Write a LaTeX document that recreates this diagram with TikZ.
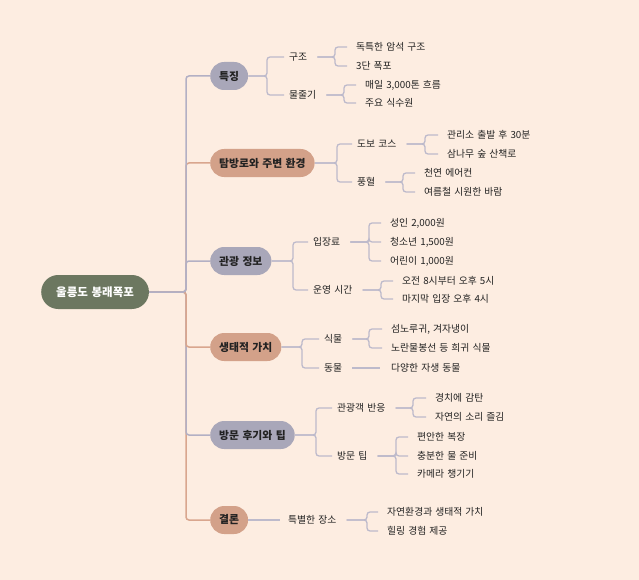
\documentclass[tikz,border=0pt]{standalone}
\usepackage{fontspec}
\setmainfont{Noto Sans CJK KR}[WordSpace=1.4]
\definecolor{bg}{HTML}{FDEDE1}
\definecolor{rootc}{HTML}{6C7760}
\definecolor{grayc}{HTML}{A9A7B9}
\definecolor{tanc}{HTML}{D3A189}
\definecolor{grayl}{HTML}{B3B0C4}
\definecolor{tanl}{HTML}{D9A68E}
\definecolor{subl}{HTML}{BDBACB}
\definecolor{txt}{HTML}{222222}
\newcommand\link[6]{\draw[#1] ([xshift=#2pt]#3.east) -| (#4 |- #5.west) -- ([xshift=-#6pt]#5.west);}
\tikzset{
  rootbox/.style={fill=rootc, text=white, font=\fontsize{11.5}{13}\selectfont\bfseries, rounded corners=17pt, minimum height=34pt, inner xsep=15pt, anchor=west},
  grayox/.style={fill=grayc, text=txt, font=\fontsize{10.8}{12}\selectfont\bfseries, rounded corners=14pt, minimum height=28pt, inner xsep=9pt, anchor=west},
  tanbox/.style={fill=tanc, text=txt, font=\fontsize{10.8}{12}\selectfont\bfseries, rounded corners=14pt, minimum height=28pt, inner xsep=9pt, anchor=west},
  lab/.style={text=txt, font=\fontsize{9.8}{11}\selectfont, inner sep=0pt, anchor=west},
  gline/.style={draw=grayl, line width=1.5pt, rounded corners=3pt},
  tline/.style={draw=tanl, line width=1.5pt, rounded corners=3pt},
  sline/.style={draw=subl, line width=1.3pt, rounded corners=3pt},
}
\begin{document}
\begin{tikzpicture}[x=1pt,y=-1pt]
\fill[bg] (0,0) rectangle (639,580);
\useasboundingbox (0,0) rectangle (639,580);
% elbow coordinates
\coordinate (t) at (186,0);
\coordinate (e1) at (267,0);
\coordinate (e2) at (337,0);
\coordinate (e3) at (293,0);
\coordinate (e4) at (302,0);
\coordinate (e5) at (316,0);
\coordinate (e1a) at (335,0);
\coordinate (e1b) at (344,0);
\coordinate (e2a) at (425,0);
\coordinate (e2b) at (403,0);
\coordinate (e3a) at (369,0);
\coordinate (e3b) at (381,0);
\coordinate (e4a) at (369,0);
\coordinate (e5a) at (413,0);
\coordinate (e5b) at (396,0);
\coordinate (e6a) at (367,0);
% root
\node[rootbox] (root) at (41,292) {울릉도 봉래폭포};
% level 1
\node[grayox] (n1) at (210,76) {특징};
\node[tanbox] (n2) at (210,163) {탐방로와 주변 환경};
\node[grayox] (n3) at (210,261) {관광 정보};
\node[tanbox] (n4) at (210,347) {생태적 가치};
\node[grayox] (n5) at (210,435) {방문 후기와 팁};
\node[tanbox] (n6) at (210,520) {결론};
% level 2
\node[lab] (n1a) at (289,57) {구조};
\node[lab] (n1b) at (289,95) {물줄기};
\node[lab] (n2a) at (357,144) {도보 코스};
\node[lab] (n2b) at (357,182) {풍혈};
\node[lab] (n3a) at (313,242) {입장료};
\node[lab] (n3b) at (313,290) {운영 시간};
\node[lab] (n4a) at (324,339) {식물};
\node[lab] (n4b) at (324,368) {동물};
\node[lab] (n5a) at (337,408) {관광객 반응};
\node[lab] (n5b) at (337,456) {방문 팁};
\node[lab] (n6a) at (288,520) {특별한 장소};
% level 3
\node[lab] (c1) at (356,47) {독특한 암석 구조};
\node[lab] (c2) at (356,66) {3단 폭포};
\node[lab] (c3) at (365,85) {매일 3,000톤 흐름};
\node[lab] (c4) at (365,103) {주요 식수원};
\node[lab] (c5) at (447,135) {관리소 출발 후 30분};
\node[lab] (c6) at (447,154) {삼나무 숲 산책로};
\node[lab] (c7) at (424,173) {천연 에어컨};
\node[lab] (c8) at (424,192) {여름철 시원한 바람};
\node[lab] (c9) at (390,223) {성인 2,000원};
\node[lab] (c10) at (390,242) {청소년 1,500원};
\node[lab] (c11) at (390,261) {어린이 1,000원};
\node[lab] (c12) at (402,281) {오전 8시부터 오후 5시};
\node[lab] (c13) at (402,299) {마지막 입장 오후 4시};
\node[lab] (c14) at (391,329) {섬노루귀, 겨자냉이};
\node[lab] (c15) at (391,348) {노란물봉선 등 희귀 식물};
\node[lab] (c16) at (391,368) {다양한 자생 동물};
\node[lab] (c17) at (435,398) {경치에 감탄};
\node[lab] (c18) at (435,417) {자연의 소리 즐김};
\node[lab] (c19) at (417,437) {편안한 복장};
\node[lab] (c20) at (417,456) {충분한 물 준비};
\node[lab] (c21) at (417,474) {카메라 챙기기};
\node[lab] (c22) at (387,512) {자연환경과 생태적 가치};
\node[lab] (c23) at (387,531) {힐링 경험 제공};
% level 1 connectors
\link{tline}{0}{root}{t}{n6}{0}
\link{gline}{0}{root}{t}{n5}{0}
\link{tline}{0}{root}{t}{n4}{0}
\link{tline}{0}{root}{t}{n2}{0}
\link{gline}{0}{root}{t}{n1}{0}
\link{gline}{0}{root}{t}{n3}{0}
% level 2 connectors
\link{sline}{0}{n1}{e1}{n1a}{5}
\link{sline}{0}{n1}{e1}{n1b}{5}
\link{sline}{0}{n2}{e2}{n2a}{5}
\link{sline}{0}{n2}{e2}{n2b}{5}
\link{sline}{0}{n3}{e3}{n3a}{5}
\link{sline}{0}{n3}{e3}{n3b}{5}
\link{sline}{0}{n4}{e4}{n4a}{5}
\link{sline}{0}{n4}{e4}{n4b}{5}
\link{sline}{0}{n5}{e5}{n5a}{5}
\link{sline}{0}{n5}{e5}{n5b}{5}
\draw[sline] (n6.east) -- ([xshift=-8pt]n6a.west);
% level 3 connectors
\link{sline}{10}{n1a}{e1a}{c1}{9}
\link{sline}{10}{n1a}{e1a}{c2}{9}
\link{sline}{10}{n1b}{e1b}{c3}{9}
\link{sline}{10}{n1b}{e1b}{c4}{9}
\link{sline}{10}{n2a}{e2a}{c5}{9}
\link{sline}{10}{n2a}{e2a}{c6}{9}
\link{sline}{10}{n2b}{e2b}{c7}{9}
\link{sline}{10}{n2b}{e2b}{c8}{9}
\link{sline}{10}{n3a}{e3a}{c9}{9}
\link{sline}{10}{n3a}{e3a}{c10}{9}
\link{sline}{10}{n3a}{e3a}{c11}{9}
\link{sline}{10}{n3b}{e3b}{c12}{9}
\link{sline}{10}{n3b}{e3b}{c13}{9}
\link{sline}{10}{n4a}{e4a}{c14}{9}
\link{sline}{10}{n4a}{e4a}{c15}{9}
\draw[sline] ([xshift=10pt]n4b.east) -- ([xshift=-11pt]c16.west);
\link{sline}{10}{n5a}{e5a}{c17}{9}
\link{sline}{10}{n5a}{e5a}{c18}{9}
\link{sline}{10}{n5b}{e5b}{c19}{9}
\link{sline}{10}{n5b}{e5b}{c20}{9}
\link{sline}{10}{n5b}{e5b}{c21}{9}
\link{sline}{10}{n6a}{e6a}{c22}{9}
\link{sline}{10}{n6a}{e6a}{c23}{9}
\end{tikzpicture}
\end{document}
